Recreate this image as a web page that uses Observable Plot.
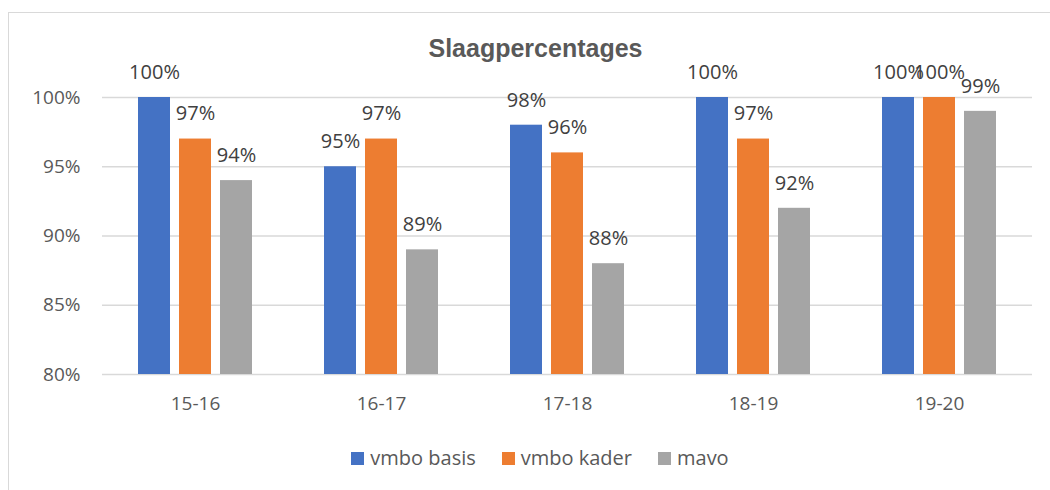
<!DOCTYPE html>
<html>
<head>
<meta charset="utf-8">
<script src="https://cdn.jsdelivr.net/npm/d3@7"></script>
<script src="https://cdn.jsdelivr.net/npm/@observablehq/plot@0.6"></script>
<style>
  body { margin: 0; background: #fff; }
  #wrap { position: relative; width: 1050px; height: 490px; overflow: hidden; font-family: "Open Sans", Lato, sans-serif; }
  #frame { position: absolute; left: 8px; top: 12px; width: 1100px; height: 540px; border: 1px solid #d9d9d9; box-sizing: border-box; }
  #title { position: absolute; left: 0; top: 33px; width: 1071px; text-align: center; font-family: "Liberation Sans", Arial, sans-serif; font-weight: bold; font-size: 25px; line-height: 30px; color: #595959; }
  #legend { position: absolute; left: 0; top: 444px; width: 1080px; display: flex; justify-content: center; gap: 26px; font-size: 20px; line-height: 28px; color: #595959; }
  .item { display: flex; align-items: center; gap: 6px; }
  .sw { width: 13px; height: 13px; display: inline-block; }
  #chart { position: absolute; left: 0; top: 0; }
</style>
</head>
<body>
<div id="wrap">
  <div id="frame"></div>
  <div id="chart"></div>
  <div id="title">Slaagpercentages</div>
  <div id="legend"></div>
</div>
<script>
const periods = ["15-16", "16-17", "17-18", "18-19", "19-20"];
const seriesNames = ["vmbo basis", "vmbo kader", "mavo"];
const seriesColors = ["#4472C4", "#ED7D31", "#A5A5A5"];
const vmboBasis = [100, 95, 98, 100, 100];
const vmboKader = [97, 97, 96, 97, 100];
const mavo = [94, 89, 88, 92, 99];
const yTicks = [80, 85, 90, 95, 100];

const seriesValues = [vmboBasis, vmboKader, mavo];
const data = [];
periods.forEach((p, i) => {
  seriesNames.forEach((s, j) => {
    data.push({period: p, series: s, value: seriesValues[j][i]});
  });
});

const chart = Plot.plot({
  width: 1050,
  height: 490,
  marginTop: 97,
  marginBottom: 116,
  marginLeft: 102,
  marginRight: 18,
  style: {fontFamily: "'Open Sans', Lato, sans-serif", background: "transparent"},
  fx: {domain: periods, padding: 0, label: null},
  x: {domain: seriesNames, axis: null, paddingInner: 0.22, paddingOuter: 0.85},
  y: {domain: [yTicks[0], yTicks[yTicks.length - 1]], label: null},
  color: {domain: seriesNames, range: seriesColors},
  marks: [
    Plot.ruleY(yTicks, {stroke: "#d9d9d9", strokeWidth: 1.5}),
    Plot.axisY({ticks: yTicks, tickSize: 0, tickPadding: 22, tickFormat: d => d + "%", fontSize: 19, fill: "#595959", label: null}),
    Plot.axisFx({anchor: "bottom", tickSize: 0, tickPadding: 22, fontSize: 19, fill: "#595959", label: null}),
    Plot.barY(data, {fx: "period", x: "series", y1: () => yTicks[0], y2: "value", fill: "series"}),
    Plot.text(data, {fx: "period", x: "series", y: "value", text: d => d.value + "%", dy: -25, fontSize: 20, fill: "#404040"})
  ]
});
document.getElementById("chart").appendChild(chart);

const legend = document.getElementById("legend");
seriesNames.forEach((s, i) => {
  const item = document.createElement("div");
  item.className = "item";
  const sw = document.createElement("span");
  sw.className = "sw";
  sw.style.background = seriesColors[i];
  const lab = document.createElement("span");
  lab.textContent = s;
  item.appendChild(sw);
  item.appendChild(lab);
  legend.appendChild(item);
});
</script>
</body>
</html>
